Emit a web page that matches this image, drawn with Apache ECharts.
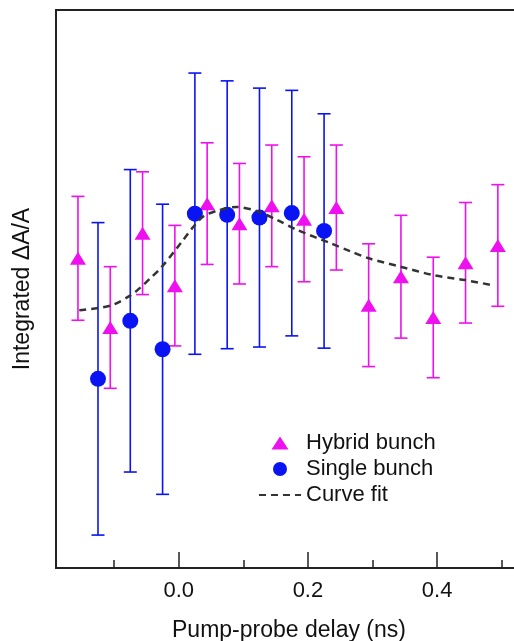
<!DOCTYPE html>
<html>
<head>
<meta charset="utf-8">
<title>Integrated ΔA/A vs pump-probe delay</title>
<script src="https://cdn.jsdelivr.net/npm/echarts@6/dist/echarts.min.js"></script>
<style>
  html, body { margin: 0; padding: 0; background: #ffffff; }
  #chart { width: 514px; height: 641px; }
</style>
</head>
<body>
<div id="chart"></div>
<script>
// Hybrid bunch: delay (ns), integrated signal (arb. units), error half-width
const hybridDelay  = [-0.156, -0.106, -0.056, -0.006, 0.044, 0.094, 0.144, 0.194, 0.244, 0.294, 0.344, 0.394, 0.444, 0.494];
const hybridSignal = [55.5, 43.1, 60.0, 50.6, 65.3, 61.7, 64.9, 62.5, 64.6, 47.1, 52.2, 44.9, 54.7, 57.8];
const hybridError  = [11.1, 10.9, 11.0, 10.8, 10.9, 10.8, 10.9, 11.2, 11.2, 11.0, 11.0, 10.8, 10.8, 10.9];

// Single bunch
const singleDelay  = [-0.125, -0.075, -0.025, 0.025, 0.075, 0.125, 0.175, 0.225];
const singleSignal = [33.9, 44.3, 39.2, 63.5, 63.3, 62.8, 63.6, 60.4];
const singleError  = [28.0, 27.1, 26.0, 25.2, 24.0, 23.2, 22.0, 21.0];

// Fitted curve
const fitDelay  = [-0.154, -0.106, -0.074, -0.060, -0.045, -0.026, -0.003, 0.007, 0.023, 0.038, 0.059, 0.090, 0.120, 0.152, 0.183, 0.235, 0.265, 0.294, 0.343, 0.394, 0.443, 0.485];
const fitSignal = [46.2, 47.0, 48.9, 50.2, 51.8, 54.0, 57.3, 58.8, 61.2, 63.0, 64.0, 64.7, 64.0, 62.4, 60.6, 58.2, 56.8, 55.5, 54.0, 52.5, 51.6, 50.7];

// Axis ticks
const majorTicks = [0.0, 0.2, 0.4];
const minorTicks = [-0.1, 0.1, 0.3, 0.5];

const MAGENTA = '#EE10EE';
const BLUE = '#0A14F2';
const INK = '#222222';
const FONT = 'Liberation Sans, Arial, Helvetica, sans-serif';
const FONT_SIZE = 22;
const TITLE_SIZE = 23;

const X_MIN = -0.19, X_MAX = 0.5314;

// Legend glyphs sized inside a 42x16 box so they keep their proportions
const TRIANGLE_ICON = 'path://M0,0 M42,16 M12.5,14.5 L21,1.5 L29.5,14.5 Z';
const CIRCLE_ICON = 'path://M0,0 M42,16 M28,8 A7,7 0 1 1 14,8 A7,7 0 1 1 28,8 Z';

function zip3(a, b, c) { return a.map((v, i) => [v, b[i], c[i]]); }

function errorBarRenderer(color, capHalf) {
  return function (params, api) {
    const x = api.value(0), y = api.value(1), e = api.value(2);
    const top = api.coord([x, y + e]);
    const bot = api.coord([x, y - e]);
    const style = { stroke: color, lineWidth: 1.6, fill: null };
    return {
      type: 'group',
      children: [
        { type: 'line', shape: { x1: top[0], y1: top[1], x2: bot[0], y2: bot[1] }, style },
        { type: 'line', shape: { x1: top[0] - capHalf, y1: top[1], x2: top[0] + capHalf, y2: top[1] }, style },
        { type: 'line', shape: { x1: bot[0] - capHalf, y1: bot[1], x2: bot[0] + capHalf, y2: bot[1] }, style }
      ]
    };
  };
}

const chart = echarts.init(document.getElementById('chart'), null, { renderer: 'canvas' });

chart.setOption({
  animation: false,
  backgroundColor: '#ffffff',
  textStyle: { fontFamily: FONT },
  grid: {
    left: 56, top: 10, width: 466, height: 558,
    outerBoundsMode: 'none', containLabel: false,
    show: true, borderColor: INK, borderWidth: 2, backgroundColor: 'transparent'
  },
  legend: {
    orient: 'vertical',
    left: 253, top: 427,
    itemWidth: 42, itemHeight: 16, itemGap: 4,
    textStyle: { fontSize: FONT_SIZE, color: '#111', fontFamily: FONT },
    data: [
      { name: 'Hybrid bunch', icon: TRIANGLE_ICON },
      { name: 'Single bunch', icon: CIRCLE_ICON },
      { name: 'Curve fit', itemStyle: { color: 'rgba(0,0,0,0)', opacity: 0, borderWidth: 0 } }
    ]
  },
  xAxis: [
    {
      type: 'value', min: X_MIN, max: X_MAX,
      name: 'Pump-probe delay (ns)', nameLocation: 'middle', nameGap: 51,
      nameTextStyle: { fontSize: TITLE_SIZE, color: '#111', fontFamily: FONT },
      axisLine: { show: true, onZero: false, lineStyle: { color: INK, width: 2 } },
      axisTick: { show: true, inside: true, length: 16, customValues: majorTicks, lineStyle: { color: INK, width: 1.5 } },
      axisLabel: { show: true, margin: 12, fontSize: FONT_SIZE, color: '#111', fontFamily: FONT,
                   customValues: majorTicks, formatter: v => v.toFixed(1) },
      splitLine: { show: false }
    },
    {
      type: 'value', min: X_MIN, max: X_MAX, position: 'bottom', offset: 0,
      axisLine: { show: false, onZero: false },
      axisTick: { show: true, inside: true, length: 8, customValues: minorTicks, lineStyle: { color: INK, width: 1.5 } },
      axisLabel: { show: false },
      splitLine: { show: false }
    }
  ],
  yAxis: {
    type: 'value', min: 0, max: 100,
    name: 'Integrated ΔA/A', nameLocation: 'middle', nameGap: 22,
    nameTextStyle: { fontSize: TITLE_SIZE, color: '#111', fontFamily: FONT },
    axisLine: { show: true, onZero: false, lineStyle: { color: INK, width: 2 } },
    axisTick: { show: false },
    axisLabel: { show: false },
    splitLine: { show: false }
  },
  series: [
    {
      name: 'Hybrid bunch error', type: 'custom', xAxisIndex: 0,
      renderItem: errorBarRenderer(MAGENTA, 6.5),
      encode: { x: 0, y: 1 },
      data: zip3(hybridDelay, hybridSignal, hybridError),
      z: 2, silent: true
    },
    {
      name: 'Single bunch error', type: 'custom', xAxisIndex: 0,
      renderItem: errorBarRenderer(BLUE, 6.5),
      encode: { x: 0, y: 1 },
      data: zip3(singleDelay, singleSignal, singleError),
      z: 2, silent: true
    },
    {
      name: 'Hybrid bunch', type: 'scatter', xAxisIndex: 0,
      symbol: 'triangle', symbolSize: [16, 13],
      itemStyle: { color: MAGENTA, opacity: 1 },
      data: hybridDelay.map((d, i) => [d, hybridSignal[i]]),
      z: 3
    },
    {
      name: 'Single bunch', type: 'scatter', xAxisIndex: 0,
      symbol: 'circle', symbolSize: 16,
      itemStyle: { color: BLUE, opacity: 1 },
      data: singleDelay.map((d, i) => [d, singleSignal[i]]),
      z: 3
    },
    {
      name: 'Curve fit', type: 'line', xAxisIndex: 0,
      showSymbol: false, symbol: 'none', smooth: 0.3,
      lineStyle: { color: '#333333', width: 2.5, type: [7, 5] },
      itemStyle: { color: '#333333' },
      data: fitDelay.map((d, i) => [d, fitSignal[i]]),
      z: 4
    }
  ]
});
</script>
</body>
</html>
